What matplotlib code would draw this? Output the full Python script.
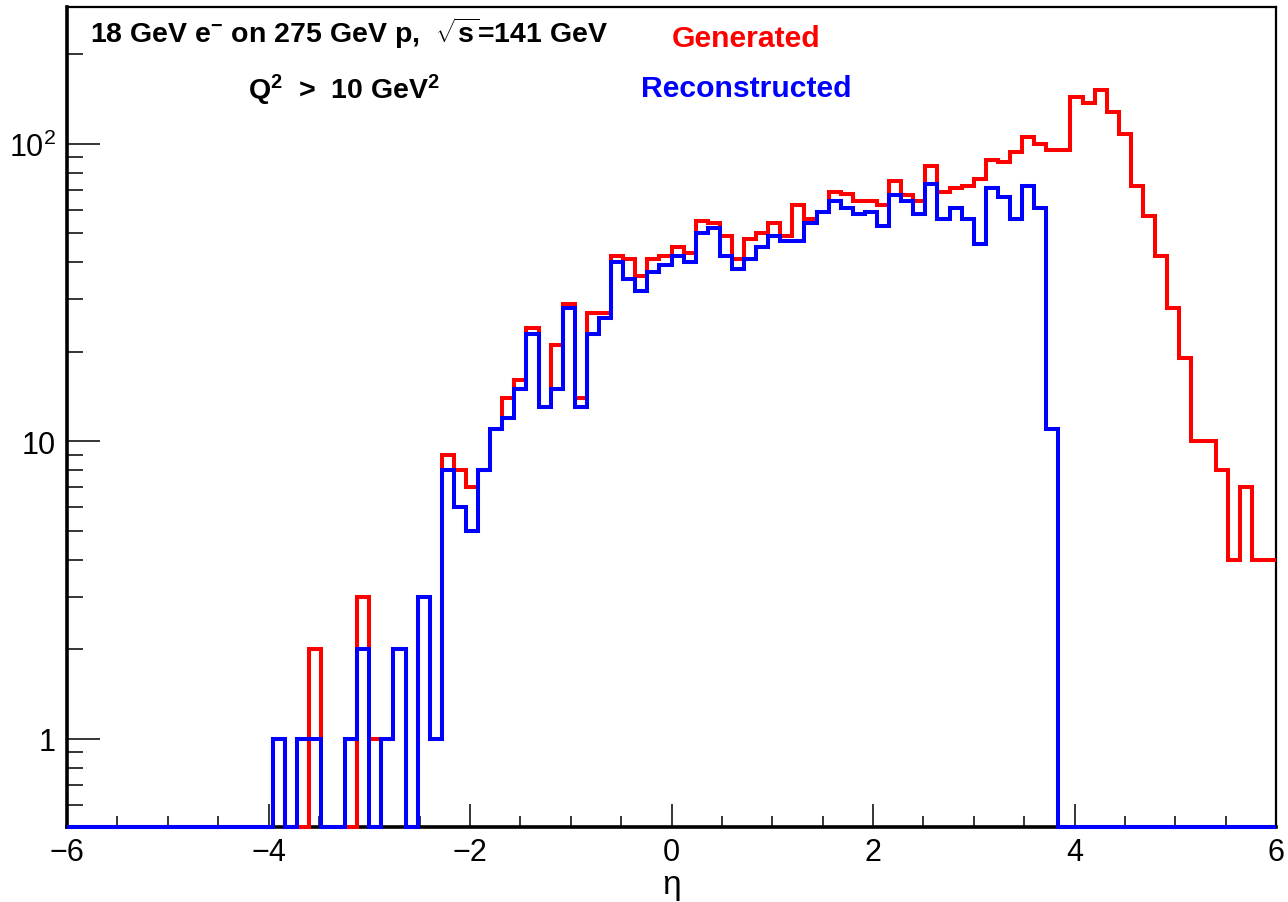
import numpy as np
import matplotlib
matplotlib.use("Agg")
import matplotlib.pyplot as plt
from matplotlib.ticker import FixedLocator, NullFormatter

plt.rcParams.update(
    {
        "font.family": "Liberation Sans",
        "mathtext.fontset": "custom",
        "mathtext.rm": "Liberation Sans",
        "mathtext.bf": "Liberation Sans:bold",
        "mathtext.it": "Liberation Sans:italic",
    }
)

# 100 bins of eta between -6 and 6
eta_edges = np.linspace(-6, 6, 101)

# generated counts per bin
generated = [0] * 17 + [
    1, 0, 0, 2, 0, 0, 0, 3, 1, 1, 2, 0, 3, 1,
    9, 8, 7, 8, 11, 14, 16, 24, 13, 21, 29, 14, 27, 27,
    42, 41, 36, 41, 42, 45, 43, 55, 54, 49, 41, 48, 50, 54,
    49, 62, 56, 59, 69, 68, 64, 64, 62, 75, 67, 64, 84, 69,
    71, 72, 76, 88, 87, 94, 105, 100, 95, 95, 143, 137, 151, 128,
    108, 72, 57, 42, 28, 19, 10, 10, 8, 4, 7, 4, 4,
]

# reconstructed counts per bin
reconstructed = [0] * 17 + [
    1, 0, 1, 1, 0, 0, 1, 2, 0, 1, 2, 0, 3, 1,
    8, 6, 5, 8, 11, 12, 15, 23, 13, 15, 28, 13, 23, 26,
    40, 35, 32, 37, 39, 42, 40, 50, 52, 42, 38, 41, 45, 49,
    47, 47, 54, 59, 64, 61, 58, 59, 53, 67, 64, 58, 73, 56,
    61, 56, 46, 71, 66, 56, 72, 61, 11,
] + [0] * 18

y_ticks = [1, 10, 100]
y_tick_labels = ["1", "10", r"$\mathregular{10^{2}}$"]
x_ticks = [-6, -4, -2, 0, 2, 4, 6]

YMIN, YMAX = 0.505, 288

gen = np.array(generated, dtype=float)
rec = np.array(reconstructed, dtype=float)
# empty bins sit on the bottom of the frame, like ROOT does
gen_plot = np.where(gen > 0, gen, YMIN)
rec_plot = np.where(rec > 0, rec, YMIN)

fig = plt.figure(figsize=(12.88, 9.03), dpi=100)
ax = fig.add_axes([67 / 1288, 1 - 828 / 903, (1276 - 67) / 1288, (828 - 8) / 903])

ax.stairs(gen_plot, eta_edges, baseline=None, color="#ff0000", lw=2.9, clip_on=False, zorder=3)
ax.stairs(rec_plot, eta_edges, baseline=None, color="#0000ff", lw=2.9, clip_on=False, zorder=4)

ax.set_yscale("log")
ax.set_xlim(-6, 6)
ax.set_ylim(YMIN, YMAX)

ax.yaxis.set_major_locator(FixedLocator(y_ticks))
ax.set_yticklabels(y_tick_labels)
minor_y = [m * 10.0 ** e for e in (-1, 0, 1, 2) for m in range(2, 10)]
minor_y = [v for v in minor_y if YMIN < v < YMAX]
ax.yaxis.set_minor_locator(FixedLocator(minor_y))
ax.yaxis.set_minor_formatter(NullFormatter())

ax.xaxis.set_major_locator(FixedLocator(x_ticks))
ax.set_xticklabels(["\u22126", "\u22124", "\u22122", "0", "2", "4", "6"])
ax.xaxis.set_minor_locator(FixedLocator(np.arange(-6, 6.01, 0.5)))

ax.tick_params(axis="both", which="both", direction="in", top=False, right=False,
               labelsize=22, width=1.1, color="black")
ax.tick_params(axis="y", which="major", length=24, pad=8)
ax.tick_params(axis="y", which="minor", length=11.5)
ax.tick_params(axis="x", which="major", length=16.5, pad=7)
ax.tick_params(axis="x", which="minor", length=8)

for side in ("left", "bottom"):
    ax.spines[side].set_linewidth(2.6)
for side in ("top", "right"):
    ax.spines[side].set_linewidth(1.6)

fig.text(672 / 1288, 1 - 886 / 903, "\u03b7", ha="center", va="center", fontsize=24)

fig.text(90 / 1288, 1 - 43 / 903,
         r"18 GeV e$^{\mathbf{-}}$ on 275 GeV p,  $\mathbf{\sqrt{s}}$=141 GeV",
         ha="left", va="baseline", fontsize=20.5, fontweight="bold")
fig.text(248 / 1288, 1 - 99 / 903,
         r"Q$^{\mathbf{2}}$  >  10 GeV$^{\mathbf{2}}$",
         ha="left", va="baseline", fontsize=20.5, fontweight="bold")
fig.text(746 / 1288, 1 - 47 / 903, "Generated", ha="center", va="baseline",
         fontsize=21.7, fontweight="bold", color="#ff0000")
fig.text(746 / 1288, 1 - 97 / 903, "Reconstructed", ha="center", va="baseline",
         fontsize=21.7, fontweight="bold", color="#0000ff")

fig.savefig("out.png", dpi=100)
